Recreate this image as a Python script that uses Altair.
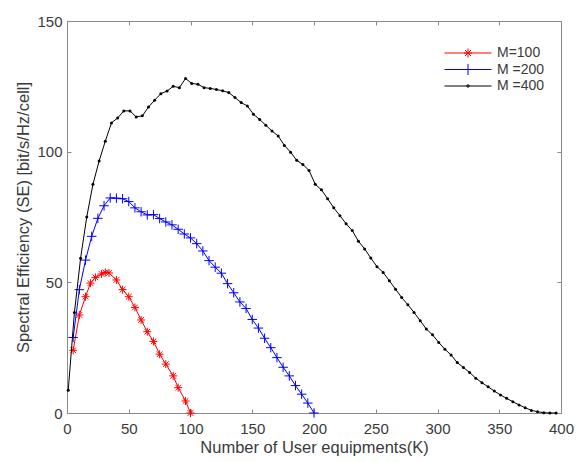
import altair as alt
import pandas as pd

series_names = ["M=100", "M =200", "M =400"]
series_colors = ["#ff0000", "#0000ff", "#000000"]

k_100 = [5, 10, 15, 19, 23, 28, 31, 34, 40, 45, 50, 55, 60, 65, 70, 75, 80, 86, 90, 96, 100]
se_100 = [24, 37.5, 44.5, 49.7, 51.9, 53.2, 53.8, 53.6, 50.9, 47.2, 44.5, 40.4, 35.6, 31.1,
          27.4, 22.5, 18.7, 14.2, 9.7, 4.6, 0]

k_200 = [5, 10, 15, 20, 25, 30, 35, 40, 45, 50, 55, 60, 65, 70, 75, 80, 85, 90, 95, 100,
         105, 110, 115, 120, 125, 130, 135, 140, 145, 150, 155, 160, 165, 170, 175, 180,
         185, 190, 195, 200]
se_200 = [28.9, 47.2, 58.5, 67.6, 74.5, 79.3, 82.3, 82.2, 82, 80.9, 78.5, 77, 75.8, 75.9,
          74.4, 73.1, 72, 70.3, 68.5, 67, 64.8, 62, 58.3, 55.8, 53.5, 49.5, 46, 42.5, 40,
          35.8, 32.5, 28.6, 25, 21.2, 17.5, 14.2, 10.5, 7.2, 3.8, 0]

k_400 = [1, 6, 11, 16, 21, 26, 31, 36, 41, 46, 51, 56, 61, 66, 71, 76, 81, 86, 91, 96,
         101, 106, 111, 116, 121, 126, 131, 136, 141, 146, 151, 156, 161, 166, 171, 176,
         181, 186, 191, 196, 201, 206, 211, 216, 221, 226, 231, 236, 241, 246, 251, 256,
         261, 266, 271, 276, 281, 286, 291, 296, 301, 306, 311, 316, 321, 326, 331, 336,
         341, 346, 351, 356, 361, 366, 371, 376, 381, 386, 391, 396]
se_400 = [8.7, 38.5, 59.2, 75, 87.5, 96.4, 104, 111, 112.9, 115.6,
          115.6, 113.3, 113.7, 117.1, 119.7, 122.2, 123.2, 125, 124.5, 128,
          126.1, 125.8, 124.5, 124.2, 123.8, 123.3, 122.6, 120.7, 118.8, 117.5,
          114.3, 112.3, 110.1, 107.9, 106, 102.4, 99.8, 96.7, 95.1, 92.8,
          87.5, 85.4, 82, 78.5, 75.5, 72.4, 69.8, 65.7, 62.8, 59.3,
          56, 53.8, 50.6, 47.4, 44.2, 41.4, 38.5, 35.3, 32.1, 29.9,
          27, 24.4, 22.2, 19.3, 17.4, 15.5, 13.3, 11.6, 10, 8.4,
          6.9, 5.6, 4.3, 3.1, 2.0, 1.0, 0.5, 0.1, 0, 0]

x_ticks = [0, 50, 100, 150, 200, 250, 300, 350, 400]
y_ticks = [0, 50, 100, 150]

frames = []
for name, ks, ses in [(series_names[0], k_100, se_100),
                      (series_names[1], k_200, se_200),
                      (series_names[2], k_400, se_400)]:
    frames.append(pd.DataFrame({"K": ks, "SE": ses, "series": name}))
df = pd.concat(frames, ignore_index=True)

FONT = "Liberation Sans"
TXT = "#3a3a3a"
FRAME = "#8a8a8a"

x_scale = alt.Scale(domain=[0, 400], nice=False, zero=False)
y_scale = alt.Scale(domain=[0, 150], nice=False, zero=False)

x_axis = alt.Axis(values=x_ticks, grid=False, domain=False, tickSize=4, offset=-4,
                  tickColor=FRAME, labelPadding=8, labelFontSize=15, labelFont=FONT,
                  labelColor=TXT, title="Number of User equipments(K)", titleFont=FONT,
                  titleFontSize=16.5, titleFontWeight="normal", titleColor=TXT,
                  titlePadding=3, labelFlush=False)
y_axis = alt.Axis(values=y_ticks, grid=False, domain=False, tickSize=4, offset=-4,
                  tickColor=FRAME, labelPadding=5, labelFontSize=15, labelFont=FONT,
                  labelColor=TXT, title="Spectral Efficiency (SE) [bit/s/Hz/cell]",
                  titleFont=FONT, titleFontSize=16.5, titleFontWeight="normal",
                  titleColor=TXT, titlePadding=5, labelFlush=False)

X = alt.X("K:Q", scale=x_scale, axis=x_axis)
Y = alt.Y("SE:Q", scale=y_scale, axis=y_axis)

base = alt.Chart(df)

marker_paths = [
    "M-1,0H1M0,-1V1M-0.7,-0.7L0.7,0.7M-0.7,0.7L0.7,-0.7",
    "M-1,0H1M0,-1V1",
    None,
]
marker_sizes = [64, 90, 9]

legend_paths = [
    "M-4.7,0H4.7M-0.8,0H0.8M0,-0.9V0.9M-0.6,-0.6L0.6,0.6M-0.6,0.6L0.6,-0.6",
    "M-4.7,0H4.7M0,-1.1V1.1",
    "M-4.7,0H4.7M-0.25,0A0.25,0.25 0 1,1 0.25,0A0.25,0.25 0 1,1 -0.25,0",
]

layers = []
for name, color, path, size in zip(series_names, series_colors, marker_paths, marker_sizes):
    sub = base.transform_filter(alt.datum.series == name)
    layers.append(sub.mark_line(color=color, strokeWidth=1).encode(x=X, y=Y))
    if path is None:
        layers.append(sub.mark_point(shape="circle", filled=True, color=color, size=size,
                                     opacity=1).encode(x=X, y=Y))
    else:
        layers.append(sub.mark_point(shape=path, filled=False, color=color, size=size,
                                     strokeWidth=1, opacity=1).encode(x=X, y=Y))

legend_props = dict(title=None, orient="none", legendX=394, legendY=25, symbolSize=100,
                    symbolStrokeWidth=1, labelOffset=22, labelFontSize=14, labelFont=FONT,
                    labelColor=TXT, rowPadding=1.5, padding=0)
legend_layer = base.mark_point(clip=True, filled=False, strokeWidth=1, opacity=1).encode(
    x=alt.value(-300), y=alt.value(-300),
    color=alt.Color("series:N", scale=alt.Scale(domain=series_names, range=series_colors),
                    legend=alt.Legend(**legend_props)),
    shape=alt.Shape("series:N", scale=alt.Scale(domain=series_names, range=legend_paths),
                    legend=alt.Legend(**legend_props)),
)
layers.append(legend_layer)

inner = alt.layer(*layers)

frame_layer = base.mark_point(opacity=0).encode(
    x=alt.X("K:Q", scale=x_scale,
            axis=alt.Axis(orient="top", values=x_ticks, grid=False, domain=False, labels=False,
                          tickSize=4, offset=-4, tickColor=FRAME, title=None)),
    y=alt.Y("SE:Q", scale=y_scale,
            axis=alt.Axis(orient="right", values=y_ticks, grid=False, domain=False,
                          labels=False, tickSize=4, offset=-4, tickColor=FRAME, title=None)),
)

chart = alt.layer(inner, frame_layer).resolve_scale(
    x="independent", y="independent"
).properties(
    width=494, height=392,
    autosize=alt.AutoSizeParams(type="none"),
    padding={"left": 67, "top": 21, "right": 15, "bottom": 49},
    background="white",
).configure_view(stroke=FRAME, strokeWidth=1)

chart.save("out.html", embed_options={"renderer": "svg", "actions": False})
